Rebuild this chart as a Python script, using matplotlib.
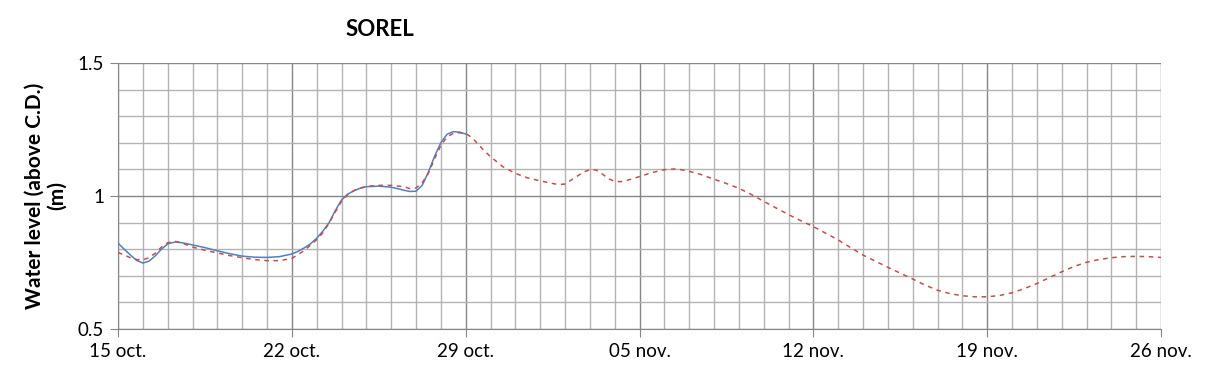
import matplotlib
matplotlib.use("Agg")
import matplotlib.pyplot as plt
from matplotlib.ticker import MultipleLocator

# days counted from 15 oct.
obs_days = [0, 0.25, 0.5, 0.75, 1, 1.25, 1.5, 1.75, 2, 2.3, 2.6, 3, 3.5, 4, 4.5, 5,
            5.5, 6, 6.5, 7, 7.25, 7.5, 7.75, 8, 8.25, 8.5, 8.75, 9, 9.25, 9.5, 9.75,
            10, 10.5, 11, 11.25, 11.5, 11.75, 12, 12.25, 12.5, 12.75, 13, 13.25,
            13.5, 13.75, 14]
obs_level = [0.823, 0.80, 0.778, 0.758, 0.748, 0.755, 0.775, 0.80, 0.82, 0.827, 0.824,
             0.816, 0.806, 0.794, 0.783, 0.774, 0.770, 0.769, 0.772, 0.782, 0.792,
             0.805, 0.82, 0.841, 0.868, 0.90, 0.945, 0.985, 1.007, 1.02, 1.029,
             1.035, 1.037, 1.033, 1.028, 1.022, 1.017, 1.018, 1.04, 1.09, 1.15, 1.20,
             1.232, 1.242, 1.24, 1.233]

pred_days = [0, 0.25, 0.5, 0.75, 1, 1.25, 1.5, 1.75, 2, 2.25, 2.5, 3, 3.5, 4, 4.5, 5,
             5.5, 6, 6.5, 7, 7.25, 7.5, 7.75, 8, 8.25, 8.5, 8.75, 9, 9.25, 9.5, 9.75,
             10, 10.5, 11, 11.5, 11.75, 12, 12.25, 12.5, 12.75, 13, 13.25, 13.5,
             13.75, 14, 14.25, 14.5, 14.75, 15, 15.5, 16, 16.5, 17, 17.5, 17.75, 18,
             18.25, 18.5, 18.75, 19, 19.25, 19.5, 19.75, 20, 20.25, 20.5, 21, 21.5,
             22, 22.5, 23, 23.5, 24, 24.5, 25, 25.5, 26, 26.5, 27, 27.5, 28, 28.5,
             29, 29.5, 30, 30.5, 31, 31.5, 32, 32.5, 33, 33.5, 34, 34.5, 35, 35.5,
             36, 36.5, 37, 37.5, 38, 38.5, 39, 39.5, 40, 40.5, 41, 41.5, 42]
pred_level = [0.788, 0.778, 0.768, 0.761, 0.760, 0.768, 0.785, 0.808, 0.824, 0.830,
              0.826, 0.808, 0.796, 0.786, 0.776, 0.768, 0.761, 0.757, 0.757, 0.765,
              0.78, 0.795, 0.815, 0.836, 0.862, 0.898, 0.94, 0.98, 1.005, 1.02, 1.03,
              1.036, 1.04, 1.04, 1.035, 1.028, 1.03, 1.05, 1.085, 1.14, 1.19, 1.222,
              1.235, 1.238, 1.235, 1.22, 1.195, 1.17, 1.148, 1.11, 1.085, 1.068,
              1.057, 1.047, 1.043, 1.045, 1.06, 1.075, 1.09, 1.099, 1.098, 1.083,
              1.065, 1.055, 1.054, 1.059, 1.073, 1.088, 1.099, 1.102, 1.093, 1.08,
              1.063, 1.047, 1.029, 1.006, 0.98, 0.955, 0.93, 0.907, 0.885, 0.86,
              0.835, 0.806, 0.778, 0.755, 0.732, 0.71, 0.688, 0.665, 0.646, 0.633,
              0.625, 0.621, 0.621, 0.626, 0.636, 0.652, 0.671, 0.693, 0.715, 0.735,
              0.751, 0.761, 0.768, 0.772, 0.773, 0.772, 0.769]

tick_days = [0, 7, 14, 21, 28, 35, 42]
tick_labels = ["15 oct.", "22 oct.", "29 oct.", "05 nov.", "12 nov.", "19 nov.", "26 nov."]

plt.rcParams['font.family'] = ['Lato', 'DejaVu Sans']

fig = plt.figure(figsize=(12.09, 3.78), dpi=100)
ax = fig.add_axes([118 / 1209, 1 - 329 / 378, (1161 - 118) / 1209, (329 - 63) / 378])

ax.plot(obs_days, obs_level, color="#4F81BD", lw=1.1, zorder=3)
ax.plot(pred_days, pred_level, color="#C0504D", lw=1.1, ls=(0, (3, 3)), zorder=4)

ax.set_xlim(0, 42)
ax.set_ylim(0.5, 1.5)
ax.set_xticks(tick_days)
ax.set_xticklabels(tick_labels, fontsize=13.5)
ax.set_yticks([0.5, 1.0, 1.5])
ax.set_yticklabels(["0.5", "1", "1.5"], fontsize=13.5)
ax.xaxis.set_minor_locator(MultipleLocator(1))
ax.yaxis.set_minor_locator(MultipleLocator(0.1))

ax.grid(which="minor", color="#b3b3b3", lw=1.0)
ax.grid(which="major", color="#868686", lw=1.0)
ax.set_axisbelow(True)
ax.tick_params(which="minor", length=0)
ax.tick_params(which="major", length=6, color="#868686", pad=4)

for s in ["top", "right"]:
    ax.spines[s].set_visible(False)
for s in ["left", "bottom"]:
    ax.spines[s].set_color("#868686")

ax.set_ylabel("Water level (above C.D.)\n(m)", fontsize=15, fontweight="bold",
              linespacing=1.15)
ax.yaxis.set_label_coords(-0.049, 0.5)
fig.text(380 / 1209, 1 - 30 / 378, "SOREL", fontsize=16, fontweight="bold",
         ha="center", va="center")

fig.savefig("out.png", dpi=100)
